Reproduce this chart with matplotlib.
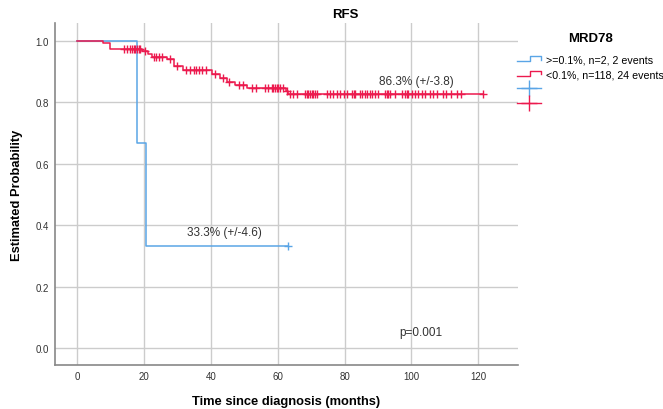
import numpy as np
import matplotlib
matplotlib.use("Agg")
import matplotlib.pyplot as plt
from matplotlib.lines import Line2D
from matplotlib.legend_handler import HandlerBase

plt.rcParams['font.family'] = ['Liberation Sans', 'DejaVu Sans']

# group >=0.1%
blue_t = [0, 17.8, 20.4]
blue_s = [1.0, 0.667, 0.333]
blue_end = 63.2
blue_cens = [63.2]

# group <0.1%
red_t = [0, 7.6, 9.8, 19.4, 21.2, 22.3, 26.8, 28.8, 31.7, 40.3, 42.6, 44.7,
         47.2, 50.7, 62.4, 63.2]
red_s = [1.0, 0.992, 0.975, 0.966, 0.957, 0.948, 0.94, 0.919, 0.906, 0.894,
         0.881, 0.868, 0.857, 0.848, 0.838, 0.827]
red_end = 121.5
red_cens = [14.0, 15.0, 15.8, 16.5, 17.0, 17.4, 17.8, 18.3, 18.8, 20.3, 22.8,
            23.6, 24.4, 25.3, 27.8, 29.8, 32.6, 33.6, 34.8, 35.6, 36.4, 37.2,
            38.4, 41.2, 43.6, 45.5, 48.5, 49.5, 52.2, 53.6, 56.2, 57.2, 58.2,
            58.7, 59.2, 59.7, 60.2, 60.7, 61.6, 62.8, 63.7, 64.7, 65.7, 68.2,
            68.7, 69.2, 69.7, 70.2, 70.7, 71.2, 71.7, 74.7, 75.7, 76.7, 77.7,
            78.7, 79.7, 80.7, 82.2, 82.7, 83.2, 84.7, 85.2, 86.2, 86.7, 87.7,
            88.2, 89.2, 90.1, 92.1, 92.6, 93.1, 93.6, 95.1, 97.1, 98.1, 98.6,
            99.1, 100.1, 101.1, 102.1, 103.1, 104.0, 105.5, 106.5, 107.6,
            109.5, 110.3, 112.0, 113.6, 115.0, 121.5]

labels = [">=0.1%, n=2, 2 events", "<0.1%, n=118, 24 events"]
blue = '#5aa5e6'
red = '#ec1a4e'


def surv_at(times, surv, t):
    idx = np.searchsorted(times, t, side='right') - 1
    return np.array(surv)[idx]


class StepHandler(HandlerBase):
    def create_artists(self, legend, orig_handle, xdescent, ydescent,
                       width, height, fontsize, trans):
        x0, w = -xdescent, width
        y0 = -ydescent + height * 0.1
        h = height * 0.7
        xs = [x0, x0 + 0.55 * w, x0 + 0.55 * w, x0 + w, x0 + w]
        ys = [y0, y0, y0 + h, y0 + h, y0 + 0.35 * h]
        ln = Line2D(xs, ys, color=orig_handle.get_color(), lw=1.0,
                    transform=trans)
        return [ln]


fig = plt.figure(figsize=(6.63, 4.10), dpi=100)
ax = fig.add_axes([0.083, 0.107, 0.698, 0.834])

ax.step(blue_t + [blue_end], blue_s + [blue_s[-1]], where='post',
        color=blue, lw=1.1, zorder=3)
ax.step(red_t + [red_end], red_s + [red_s[-1]], where='post',
        color=red, lw=1.1, zorder=4)
ax.plot(blue_cens, surv_at(blue_t, blue_s, blue_cens), '+', color=blue,
        ms=6, mew=1, zorder=3)
ax.plot(red_cens, surv_at(red_t, red_s, red_cens), '+', color=red,
        ms=6, mew=1, zorder=4)

ax.text(101.5, 0.869, "86.3% (+/-3.8)", ha='center', va='center',
        fontsize=8.5, color='#333333')
ax.text(44, 0.378, "33.3% (+/-4.6)", ha='center', va='center',
        fontsize=8.5, color='#333333')
ax.text(103, 0.052, "p=0.001", ha='center', va='center',
        fontsize=8.5, color='#333333')

ax.set_xlim(-6.7, 131.9)
ax.set_ylim(-0.055, 1.058)
ax.set_xticks(np.arange(0, 121, 20))
ax.set_yticks(np.arange(0, 1.01, 0.2))
ax.set_yticklabels([f"{v:.1f}" for v in np.arange(0, 1.01, 0.2)])
ax.tick_params(length=0, labelsize=7, labelcolor='#333333', pad=4.5)
ax.grid(True, color='#cccccc', lw=1)
ax.set_axisbelow(True)
for s in ['top', 'right']:
    ax.spines[s].set_visible(False)
for s in ['left', 'bottom']:
    ax.spines[s].set_color('#888888')
    ax.spines[s].set_linewidth(1.2)

ax.set_xlabel("Time since diagnosis (months)", fontsize=9.3,
              fontweight='bold', labelpad=10)
ax.set_ylabel("Estimated Probability", fontsize=9.3, fontweight='bold',
              labelpad=9)
fig.text(345 / 663, 1 - 15 / 410, "RFS", ha='center', va='center',
         fontsize=9.5, fontweight='bold')

handles = [Line2D([], [], color=blue), Line2D([], [], color=red),
           Line2D([], [], color=blue, marker='+', ms=11, mew=1, lw=1.0),
           Line2D([], [], color=red, marker='+', ms=11, mew=1, lw=1.0)]
leg = fig.legend(handles, labels + ['', ''],
                 handler_map={handles[0]: StepHandler(),
                              handles[1]: StepHandler()},
                 loc='upper left', bbox_to_anchor=(510 / 663, 1 - 26 / 410),
                 frameon=False, fontsize=7.7, title="MRD78",
                 handlelength=2.2, handletextpad=0.5, labelspacing=0.45,
                 borderaxespad=0.3)
leg.get_title().set_fontweight('bold')
leg.get_title().set_fontsize(9.5)
leg._legend_box.align = 'center'
leg._legend_box.sep = 7

fig.savefig("out.png", dpi=100)
